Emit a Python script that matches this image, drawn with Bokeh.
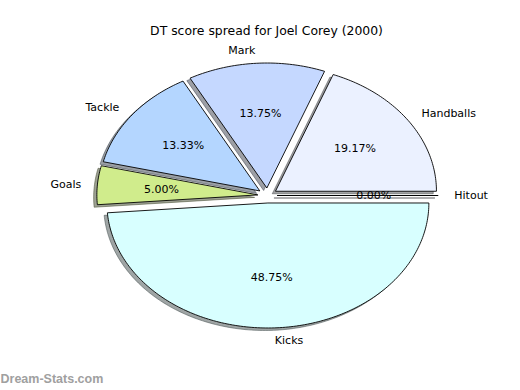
import numpy as np
from bokeh.plotting import figure
from bokeh.models import Range1d, Label, ColumnDataSource
from bokeh.embed import file_html
from bokeh.resources import INLINE
from bokeh.core.properties import value

# ---- data ----
chart_title = "DT score spread for Joel Corey (2000)"
categories = ["Hitout", "Handballs", "Mark", "Tackle", "Goals", "Kicks"]
scores = [0, 46, 33, 32, 12, 117]
colors = ["#F0F0FF", "#EBF1FF", "#C5D8FF", "#B4D6FF", "#D0EC8C", "#D8FFFF"]
watermark = "Dream-Stats.com"

# ---- layout ----
W, H = 520, 390
RX, RY = 161, 125      # pixels per pie radius (elliptical pie)
CX, CY = 267, 195      # pie centre, canvas px from top-left
EXPLODE = 0.06
SHADOW = 0.02

p = figure(width=W, height=H, output_backend="svg", toolbar_location=None,
           x_range=Range1d(-CX / RX, (W - CX) / RX),
           y_range=Range1d(-(H - CY) / RY, CY / RY),
           x_axis_location=None, y_axis_location=None, min_border=0)
p.grid.visible = False
p.outline_line_color = None
p.background_fill_color = "white"
p.border_fill_color = "white"

total = float(sum(scores))
fracs = [s / total for s in scores]
starts = np.concatenate([[0.0], np.cumsum(fracs)[:-1]]) * 2 * np.pi
ends = np.cumsum(fracs) * 2 * np.pi

wx, wy, sx, sy, scol = [], [], [], [], []
lx, ly, lalign, px, py, ptxt = [], [], [], [], [], []
for i, (t1, t2) in enumerate(zip(starts, ends)):
    mid = 0.5 * (t1 + t2)
    ox, oy = EXPLODE * np.cos(mid), EXPLODE * np.sin(mid)
    n = max(2, int(np.degrees(t2 - t1)) + 2)
    arc = np.linspace(t1, t2, n)
    xs = np.concatenate([[ox], ox + np.cos(arc), [ox]])
    ys = np.concatenate([[oy], oy + np.sin(arc), [oy]])
    wx.append(xs.tolist()); wy.append(ys.tolist())
    sx.append((xs - SHADOW).tolist()); sy.append((ys - SHADOW).tolist())
    h = colors[i].lstrip("#")
    r, g, b = (int(h[k:k + 2], 16) for k in (0, 2, 4))
    scol.append("#%02x%02x%02x" % (int(r * 0.3), int(g * 0.3), int(b * 0.3)))
    lx.append(ox + 1.1 * np.cos(mid)); ly.append(oy + 1.1 * np.sin(mid))
    lalign.append("left" if np.cos(mid) > 0 else "right")
    px.append(ox + 0.6 * np.cos(mid)); py.append(oy + 0.6 * np.sin(mid))
    ptxt.append("%.2f%%" % (100 * fracs[i]))

p.patches(xs=sx, ys=sy, fill_color=scol, fill_alpha=0.5,
          line_color=scol, line_alpha=0.5, line_width=1)
p.patches(xs=wx, ys=wy, fill_color=colors, line_color="black", line_width=0.9)

lab_src = ColumnDataSource(dict(x=lx, y=ly, t=categories, a=lalign))
p.text(x="x", y="y", text="t", text_align="a", source=lab_src,
       text_baseline="middle", text_font=value("DejaVu Sans"),
       text_font_size=value("11px"), text_color="black")
pct_src = ColumnDataSource(dict(x=px, y=py, t=ptxt))
p.text(x="x", y="y", text="t", source=pct_src, text_align="center",
       text_baseline="middle", text_font=value("DejaVu Sans"),
       text_font_size=value("11px"), text_color="black")

p.add_layout(Label(x=W / 2 + 6, y=H - 30, x_units="screen", y_units="screen",
                   text=chart_title, text_align="center", text_baseline="middle",
                   text_font="DejaVu Sans", text_font_size="12.4px", text_color="black"))
p.add_layout(Label(x=0, y=5, x_units="screen", y_units="screen",
                   text=watermark, text_align="left", text_baseline="bottom",
                   text_font="Liberation Sans", text_font_style="bold",
                   text_font_size="12.5px", text_color="#a0a0a0"))

open("out.html", "w").write(file_html(p, INLINE))
